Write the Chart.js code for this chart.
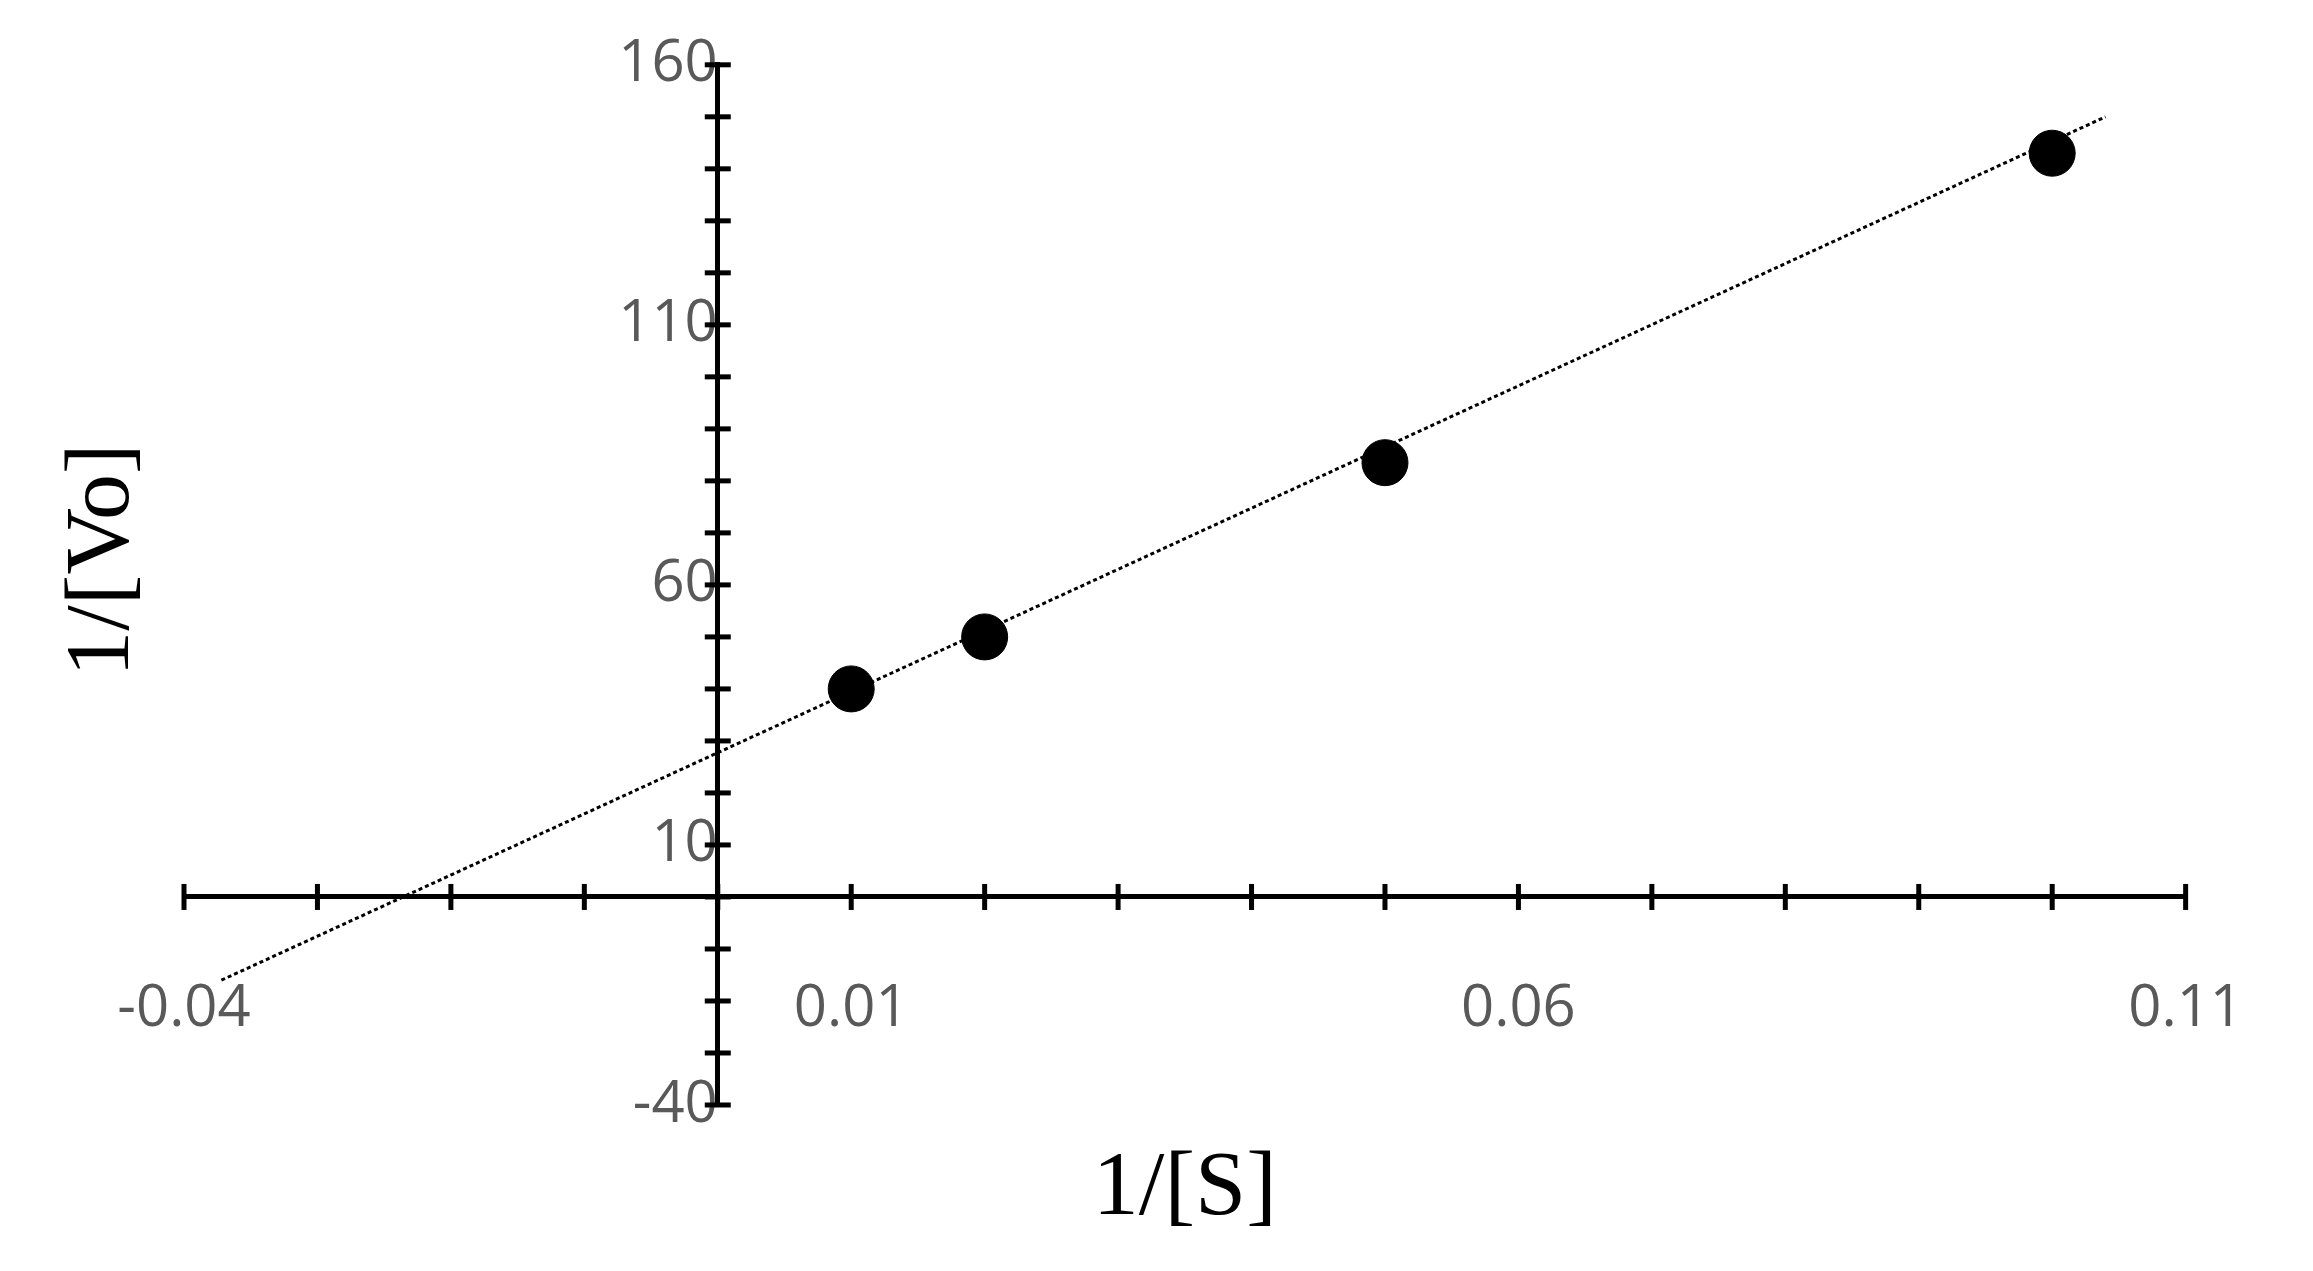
<!DOCTYPE html><html><head><style>html,body{margin:0;padding:0;background:#fff}</style>
<script src="https://cdn.jsdelivr.net/npm/chart.js@4"></script></head><body>
<canvas id="c" width="2313" height="1271"></canvas>
<script>
const xValues=[0.01,0.02,0.05,0.1];
const yValues=[40,50,83.5,143];
const trendX=[-0.0372,0.104];
const trendY=[-16,150];
const xLabels=['-0.04','0.01','0.06','0.11'];
const yLabels=['-40','10','60','110','160'];
const gray='#595959';
const innerTicks={id:'innerTicks',afterDraw(ch){const c=ch.ctx,xs=ch.scales.x,ys=ch.scales.y;const x0=xs.getPixelForValue(0),y0=ys.getPixelForValue(0);c.save();c.strokeStyle='#000';c.lineWidth=5;
for(let v=-40;v<=160;v+=10){const p=ys.getPixelForValue(v);c.beginPath();c.moveTo(x0-13,p);c.lineTo(x0+13,p);c.stroke();}
for(let i=-4;i<=11;i++){const p=xs.getPixelForValue(i/100);c.beginPath();c.moveTo(p,y0-13);c.lineTo(p,y0+13);c.stroke();}
c.fillStyle='#000';c.font='92px "Liberation Serif"';c.textAlign='center';c.textBaseline='middle';
c.fillText('1/[S]',(xs.left+xs.right)/2,1190);
c.translate(104,560);c.rotate(-Math.PI/2);c.fillText('1/[Vo]',0,0);c.restore();}};
new Chart(document.getElementById('c'),{type:'scatter',
data:{datasets:[
{data:xValues.map((x,i)=>({x,y:yValues[i]})),backgroundColor:'#000',borderColor:'#000',pointRadius:23,pointHoverRadius:23},
{type:'line',data:trendX.map((x,i)=>({x,y:trendY[i]})),borderColor:'#000',borderWidth:3,borderDash:[4,3],pointRadius:0,fill:false}]},
options:{responsive:false,devicePixelRatio:1,animation:false,layout:{padding:{left:184,right:88,top:52,bottom:166}},
plugins:{legend:{display:false},tooltip:{enabled:false}},
scales:{
x:{type:'linear',min:-0.04,max:0.11,position:{y:0},border:{color:'#000',width:5},grid:{display:false},
 afterBuildTicks:s=>{s.ticks=[];for(let i=-4;i<=11;i++)s.ticks.push({value:i/100});},
 ticks:{color:gray,font:{family:'Open Sans',size:58},padding:70,maxRotation:0,autoSkip:false,callback:v=>{const s=xLabels.find(l=>Math.abs(parseFloat(l)-v)<1e-9);return s||'';}}},
y:{type:'linear',min:-40,max:160,position:{x:0},border:{color:'#000',width:5},grid:{display:false},
 afterBuildTicks:s=>{s.ticks=[];for(let v=-40;v<=160;v+=10)s.ticks.push({value:v});},
 ticks:{color:gray,font:{family:'Open Sans',size:58},padding:30,autoSkip:false,callback:v=>yLabels.includes(String(v))?String(v):''}}}},
plugins:[innerTicks]});
</script></body></html>
